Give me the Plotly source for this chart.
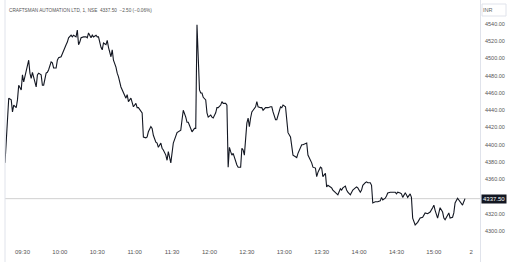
import pandas as pd
import plotly.graph_objects as go

# minutes after 09:15 open, and last traded price (INR)
minutes = [1, 2, 3, 4, 6, 7, 8, 10, 11, 12, 14, 15, 16, 18, 19, 20, 21, 22, 23, 24,
           26, 27, 28, 30, 31, 32, 34, 35, 36, 38, 39, 40, 42, 43, 44, 46, 47, 48, 50, 51,
           52, 54, 55, 56, 58, 59, 60, 61, 62, 64, 66, 67, 68, 70, 71, 72, 74, 75, 76, 78,
           79, 80, 82, 83, 84, 86, 87, 88, 90, 91, 92, 94, 95, 96, 98, 99, 100, 102, 103, 104,
           106, 107, 108, 110, 111, 112, 114, 115, 116, 118, 119, 120, 122, 123, 124, 126, 127, 128, 130, 131,
           132, 134, 135, 136, 139, 142, 143, 144, 146, 147, 148, 150, 151, 152, 153, 154, 155, 157, 158, 159,
           160, 162, 163, 164, 166, 167, 168, 170, 171, 172, 174, 175, 176, 178, 179, 180, 181, 182, 183, 184,
           186, 187, 188, 190, 191, 192, 193, 194, 195, 196, 197, 198, 199, 200, 202, 203, 204, 206, 207, 208,
           210, 211, 212, 214, 215, 216, 218, 219, 220, 222, 223, 224, 226, 227, 228, 230, 231, 232, 234, 235,
           236, 238, 239, 240, 242, 243, 244, 246, 247, 248, 250, 251, 252, 254, 255, 256, 258, 259, 260, 262,
           263, 264, 266, 267, 268, 270, 271, 272, 274, 275, 276, 278, 279, 280, 282, 283, 284, 286, 287, 288,
           290, 291, 292, 294, 295, 296, 298, 300, 302, 303, 304, 306, 307, 308, 310, 311, 312, 314, 315, 316,
           318, 319, 320, 322, 323, 324, 326, 327, 328, 329, 330, 332, 333, 334, 336, 337, 338, 340, 341, 342,
           344, 345, 346, 348, 349, 350, 352, 353, 354, 356, 357, 358, 360, 361, 362, 364, 365, 366, 368, 369,
           370]
prices = [4379, 4405.5, 4440, 4454, 4452, 4438, 4446, 4443, 4452, 4469, 4463.5, 4481, 4473, 4487, 4492, 4498, 4483, 4477, 4484, 4479,
          4467, 4481, 4483, 4481, 4469, 4469, 4483, 4484, 4487, 4496, 4495, 4489, 4489, 4498, 4501, 4502, 4506, 4510, 4516, 4519,
          4524, 4527, 4525, 4527, 4525, 4533, 4516, 4519, 4524, 4525, 4525, 4524, 4529.6, 4524, 4527, 4525, 4527, 4525, 4525, 4513,
          4510, 4518, 4516, 4521, 4513, 4502, 4510, 4498, 4490, 4483, 4479, 4467, 4463.5, 4461, 4454, 4458, 4450, 4454, 4448, 4444,
          4448, 4443, 4443, 4438, 4437, 4409, 4408, 4409, 4415, 4421, 4419, 4411, 4403, 4402, 4397, 4402, 4396, 4394, 4388, 4382,
          4392, 4379, 4394, 4402, 4414, 4417, 4429, 4440, 4432, 4426, 4426, 4417, 4415, 4417, 4419, 4419, 4539, 4463.5, 4460, 4460,
          4455, 4452, 4437, 4432, 4434.5, 4432, 4431, 4437, 4443, 4443, 4446, 4450, 4448, 4448, 4446, 4374, 4397, 4392, 4388, 4390,
          4379, 4376.5, 4374, 4374, 4396, 4394, 4388, 4414, 4425, 4431, 4421, 4431, 4438, 4440, 4444, 4450, 4444, 4443, 4443, 4440,
          4443, 4443, 4443, 4444, 4444, 4438, 4429, 4429, 4434.5, 4444, 4443, 4446, 4444, 4429, 4414, 4409, 4400, 4388, 4386, 4385,
          4390, 4397, 4400, 4400, 4402, 4402, 4388, 4382, 4379, 4374, 4373, 4363, 4368, 4374, 4373, 4363, 4367, 4351, 4353, 4351,
          4350, 4347.5, 4345, 4344, 4342, 4349, 4347.5, 4350, 4352, 4347.5, 4345, 4342, 4345, 4347.5, 4350, 4351, 4350, 4345, 4347.5, 4353,
          4356, 4357, 4356, 4356, 4353, 4332.5, 4334, 4334, 4335, 4339, 4336, 4338, 4340.5, 4344, 4345, 4345, 4345, 4345, 4343, 4345,
          4344, 4343, 4339, 4344, 4342, 4339, 4343, 4339, 4315, 4310, 4307, 4310, 4313, 4315, 4316, 4318.5, 4321, 4320, 4321, 4322,
          4327, 4330, 4324, 4315, 4321, 4327, 4322, 4315, 4313, 4318.5, 4321, 4315, 4316, 4321, 4332.5, 4338, 4336, 4334, 4330, 4334,
          4337.5]

session_date = "2023-06-01"
time_ticks = ["09:30", "10:00", "10:30", "11:00", "11:30", "12:00", "12:30",
              "13:00", "13:30", "14:00", "14:30", "15:00", "15:30"]
time_labels = ["09:30", "10:00", "10:30", "11:00", "11:30", "12:00", "12:30",
               "13:00", "13:30", "14:00", "14:30", "15:00", "2"]
# 4340.00 is hidden behind the last-price label in the reference
price_ticks = [4300, 4320, 4360, 4380, 4400, 4420, 4440, 4460, 4480, 4500, 4520, 4540]
last_price = 4337.50
title_text = "CRAFTSMAN AUTOMATION LTD, 1, NSE  4337.50  \u22122.50 (\u22120.06%)"

open_ts = pd.Timestamp(f"{session_date} 09:15")
xs = [open_ts + pd.Timedelta(minutes=m) for m in minutes]
tickvals = [pd.Timestamp(f"{session_date} {t}") for t in time_ticks]

W, H = 512, 262
L, R, T, B = 5, 32, 0, 19
pw, ph = W - L - R, H - T - B

def px(x):  # pixel -> paper x
    return (x - L) / pw

def py(y):  # pixel -> paper y
    return 1 - (y - T) / ph

fig = go.Figure()
fig.add_trace(go.Scatter(x=xs, y=prices, mode="lines",
                         line=dict(color="#131722", width=1.1), hoverinfo="skip"))

fig.add_hline(y=last_price, line=dict(color="#d0d0d0", width=1), layer="below")

FONT = "Liberation Sans"
line_col = "#e0e3eb"
shapes = [
    dict(type="line", xref="paper", yref="paper", x0=px(5), x1=px(512), y0=py(243), y1=py(243),
         line=dict(color=line_col, width=1)),
    dict(type="line", xref="paper", yref="paper", x0=px(480.5), x1=px(480.5), y0=py(0), y1=py(262),
         line=dict(color=line_col, width=1)),
    dict(type="line", xref="paper", yref="paper", x0=px(5), x1=px(5), y0=py(0), y1=py(262),
         line=dict(color=line_col, width=1)),
    dict(type="rect", xref="paper", yref="paper", x0=px(482), x1=px(506), y0=py(4), y1=py(16),
         line=dict(color=line_col, width=1), fillcolor="white"),
]
annotations = [
    dict(text=title_text, xref="paper", yref="paper", x=px(7), y=py(10), xanchor="left",
         yanchor="middle", showarrow=False, font=dict(family=FONT, size=4.7, color="#555")),
    dict(text="INR", xref="paper", yref="paper", x=px(488), y=py(10), xanchor="center",
         yanchor="middle", showarrow=False, font=dict(family=FONT, size=5.5, color="#666")),
    dict(text=f"{last_price:.2f}", xref="paper", yref="y", x=px(481), y=last_price, xanchor="left",
         yanchor="middle", showarrow=False, bgcolor="#131722", borderpad=1,
         font=dict(family=FONT, size=6, color="white")),
]

fig.update_layout(
    width=W, height=H, margin=dict(l=L, r=R, t=T, b=B),
    paper_bgcolor="white", plot_bgcolor="white", showlegend=False,
    shapes=shapes, annotations=annotations,
    xaxis=dict(type="date", range=[open_ts + pd.Timedelta(minutes=1), open_ts + pd.Timedelta(minutes=382)],
               tickvals=tickvals, ticktext=time_labels, showgrid=False, zeroline=False,
               showline=False, ticks="", ticklabelstandoff=4,
               tickfont=dict(family=FONT, size=6, color="#555")),
    yaxis=dict(side="right", range=[4286.1, 4567.8], tickvals=price_ticks, tickformat=".2f",
               showgrid=False, zeroline=False, showline=False, ticks="", ticklabelstandoff=4,
               tickfont=dict(family=FONT, size=5.5, color="#555")),
)

fig.write_html("out.html")
